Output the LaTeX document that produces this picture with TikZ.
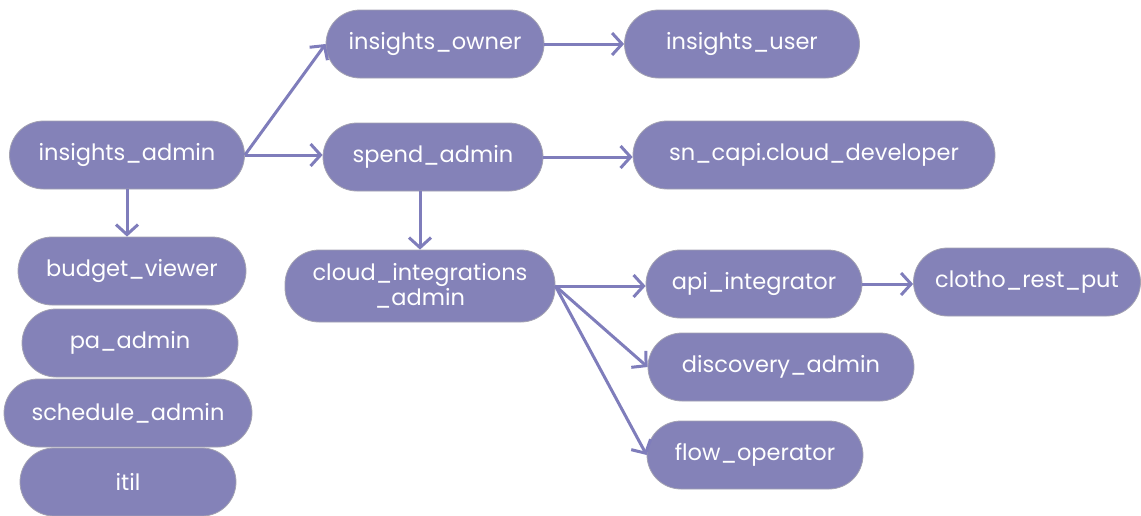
\documentclass[tikz,border=0pt]{standalone}
\usepackage{fontspec}
\setmainfont{Poppins}
\usetikzlibrary{arrows.meta}
\definecolor{rolefill}{HTML}{8482B8}
\definecolor{roleedge}{HTML}{A3A2B2}
\definecolor{linkcol}{HTML}{7F7DBB}
\tikzstyle{role} = [
    rectangle,
    rounded corners=34pt,
    minimum width=216pt,
    minimum height=68pt,
    align=center,
    fill=rolefill,
    draw=roleedge,
    line width=0.8pt,
    text=white,
    font=\fontsize{22.5}{25}\selectfont
]
\tikzstyle{arrow} = [linkcol, line width=3pt, -{Straight Barb[length=10pt,width=22pt,line width=3pt]}]

\begin{document}
\begin{tikzpicture}[x=1pt, y=1pt, node distance=70pt]
\useasboundingbox (0,0) rectangle (1141,-515);

\node (iadmin) [role, minimum width=235pt] at (127,-155) {insights\_admin};

\node (budget) [role, below of=iadmin, yshift=-46pt, xshift=5pt, minimum width=228pt]
{budget\_viewer};

\node (pa) [role, below of=budget, yshift=-2pt, xshift=-2pt]
{pa\_admin};

\node (sched) [role, below of=pa, xshift=-2pt, minimum width=248pt]
{schedule\_admin};

\node (itil) [role, below of=sched, yshift=1pt]
{itil};

\node (owner) [role, right of=iadmin, xshift=238pt, yshift=111pt, minimum width=218pt]
{insights\_owner};

\node (spend) [role, below of=owner, yshift=-43pt, xshift=-2pt, minimum width=220pt]
{spend\_admin};

\node (user) [role, right of=owner, xshift=237pt, minimum width=235pt]
{insights\_user};

\node (dev) [role, right of=spend, xshift=311pt, yshift=2pt, minimum width=362pt]
{sn\_capi.cloud\_developer};

\node (cint) [role, below of=spend, yshift=-59pt, xshift=-13pt, minimum width=270pt, minimum height=72pt]
{cloud\_integrations\\\_admin};

\node (api) [role, right of=cint, xshift=264pt, yshift=2pt]
{api\_integrator};

\node (clotho) [role, right of=api, xshift=203pt, yshift=2pt, minimum width=227pt]
{clotho\_rest\_put};

\node (disc) [role, below of=api, yshift=-13pt, xshift=27pt, minimum width=266pt]
{discovery\_admin};

\node (flow) [role, below of=disc, yshift=-18pt, xshift=-26pt]
{flow\_operator};

\draw [arrow] (iadmin.east) -- (owner.west);
\draw [arrow] (iadmin.east) -- (iadmin.east -| spend.west);
\draw [arrow] (iadmin.south) -- (iadmin.south |- budget.north);

\draw [arrow] (owner) -- (user);
\draw [arrow] (spend.east) -- (spend.east -| dev.west);
\draw [arrow] (spend.south -| cint.north) -- (cint.north);

\draw [arrow] (cint.east) -- (cint.east -| api.west);
\draw [arrow] (cint.east) -- (disc.west);
\draw [arrow] (cint.east) -- (flow.west);
\draw [arrow] (api.east) -- (api.east -| clotho.west);

\end{tikzpicture}
\end{document}
